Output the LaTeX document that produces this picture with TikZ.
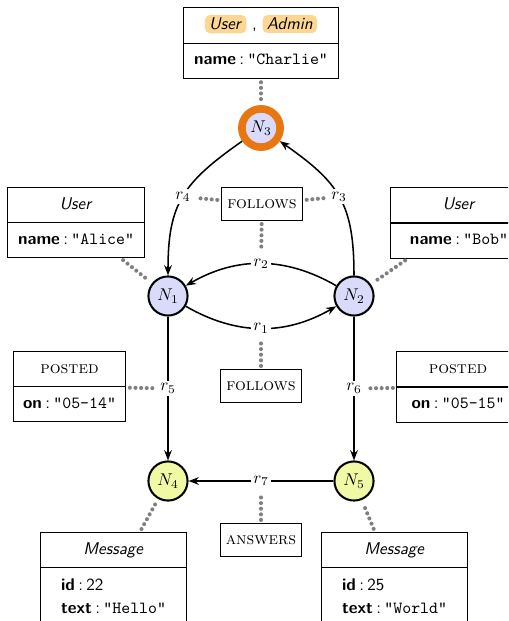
\documentclass[tikz,border=0pt]{standalone}
\usepackage{tikz}
\usepackage{amsmath}
\usepackage{xcolor}
\usetikzlibrary{arrows.meta,shapes.multipart}

\definecolor{nodeblue}{RGB}{218,218,250}
\definecolor{nodeyellow}{RGB}{240,250,165}
\definecolor{ringorange}{RGB}{232,119,18}
\definecolor{labelorange}{RGB}{253,214,145}

% highlighted node label and key : value pair
\newcommand{\hlabel}[1]{\tikz[baseline]\node[shape=rectangle, draw=none, minimum width=0pt, minimum height=0pt, anchor=base, fill=labelorange, rounded corners=3pt, inner xsep=2.5pt, inner ysep=1.8pt]{\textit{#1}};}
\newcommand{\kv}[2]{\textbf{#1}\hspace{2pt}:\hspace{2pt}#2}

\begin{document}
\begin{tikzpicture}[x=0.588pt, y=-0.588pt,
		ent/.style={circle, draw, line width=1.2pt, minimum size=23pt, inner sep=0pt},
		rel/.style={-{Stealth[length=6pt,width=4.5pt]}, line width=0.9pt},
		lbl/.style={fill=white, inner sep=1.5pt},
		tag/.style={draw, line width=0.6pt, fill=white, minimum width=48pt, minimum height=19pt, inner sep=2pt, font=\scshape},
		props/.style={rectangle split, rectangle split parts=2, draw, line width=0.6pt, fill=white, inner xsep=4pt, inner ysep=4pt, font=\sffamily},
		link/.style={gray, line width=2.4pt, line cap=round, dash pattern=on 0pt off 3.3pt, shorten <=2pt, shorten >=2pt}]
		\useasboundingbox (0,0) rectangle (508,621);
		\clip (0,0) rectangle (508,621);

		% Graph nodes
		\node[ent, fill=nodeblue] (N1) at (168,296) {$N_1$};
		\node[ent, fill=nodeblue] (N2) at (354,296) {$N_2$};
		\node[ent, fill=nodeblue, draw=ringorange, line width=4.5pt, minimum size=22.5pt] (N3) at (261,128) {$N_3$};
		\node[ent, fill=nodeyellow] (N4) at (168,481) {$N_4$};
		\node[ent, fill=nodeyellow] (N5) at (354,481) {$N_5$};

		% Relationships
		\draw[rel] (N1) to[bend right=30] node[lbl] (r1) {$r_1$} (N2);
		\draw[rel] (N2) to[bend right=30] node[lbl] (r2) {$r_2$} (N1);
		\draw[rel] (N2) to[out=90, in=-35, looseness=1.2] node[lbl] (r3) {$r_3$} (N3);
		\draw[rel] (N3) to[out=-145, in=90, looseness=1.2] node[lbl] (r4) {$r_4$} (N1);
		\draw[rel] (N1) -- node[lbl] (r5) {$r_5$} (N4);
		\draw[rel] (N2) -- node[lbl] (r6) {$r_6$} (N5);
		\draw[rel] (N5) -- node[lbl] (r7) {$r_7$} (N4);

		% Node properties
		\node[props, minimum width=91.7pt] (pN3) at (261,43)
		{\strut\hlabel{User}\ ,\ \hlabel{Admin}\nodepart{two}\strut\kv{name}{\texttt{"Charlie"}}};
		\node[props, minimum width=80pt] (pN1) at (76,222.5)
		{\strut\textit{User}\nodepart{two}\strut\kv{name}{\texttt{"Alice"}}};
		\node[props, minimum width=80pt] (pN2) at (459,223)
		{\strut\textit{User}\nodepart{two}\strut\kv{name}{\texttt{"Bob"}}};
		\node[props, minimum width=85.3pt, anchor=north] (pN4) at (113.5,532)
		{\strut\textit{Message}\nodepart{two}\renewcommand{\arraystretch}{1.1}%
			\begin{tabular}{@{}l@{}}\kv{id}{22}\\ \kv{text}{\texttt{"Hello"}}\end{tabular}};
		\node[props, minimum width=85.3pt, anchor=north] (pN5) at (394.5,532)
		{\strut\textit{Message}\nodepart{two}\renewcommand{\arraystretch}{1.1}%
			\begin{tabular}{@{}l@{}}\kv{id}{25}\\ \kv{text}{\texttt{"World"}}\end{tabular}};

		% Relationship properties
		\node[props, minimum width=66.4pt] (pr5) at (69.5,386.5)
		{\strut\textrm{\scshape posted}\nodepart{two}\strut\kv{on}{\texttt{"05-14"}}};
		\node[props, minimum width=72pt] (pr6) at (458,387)
		{\strut\textrm{\scshape posted}\nodepart{two}\strut\kv{on}{\texttt{"05-15"}}};
		\node[tag] (fa) at (262,204) {follows};
		\node[tag] (fb) at (261,386) {follows};
		\node[tag] (an) at (261,540) {answers};

		% Dotted links from properties to their element
		\foreach \a/\b in {pN1/N1, pN2/N2, pN3/N3, pN4/N4, pN5/N5,
				fa/r2, fa/r3, fa/r4, fb/r1, pr5/r5, pr6/r6, an/r7} {
				\draw[link] (\a) -- (\b);
			}
	\end{tikzpicture}
\end{document}
